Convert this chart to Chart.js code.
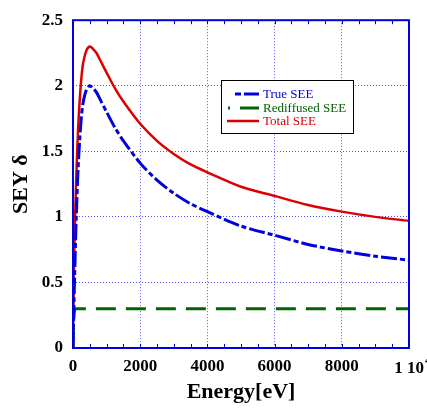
<!DOCTYPE html>
<html>
<head>
<meta charset="utf-8">
<script src="https://cdn.jsdelivr.net/npm/chart.js@4.4.1/dist/chart.umd.min.js"></script>
<style>
  html, body { margin: 0; padding: 0; background: #fff; }
  #wrap { width: 427px; height: 410px; }
</style>
</head>
<body>
<div id="wrap"><canvas id="sey" width="427" height="410"></canvas></div>
<script>
// datos
const energia = [0, 10, 20, 30, 50, 75, 100, 150, 200, 250, 300, 400, 500, 600, 700, 800,
  1000, 1250, 1500, 2000, 2500, 3000, 3500, 4000, 5000, 6000, 7000, 8000, 9000, 10000];
const trueSEE = [0, 0.12, 0.24, 0.35, 0.56, 0.81, 1.02, 1.36, 1.59, 1.76, 1.87, 1.97, 2.0, 1.98, 1.95, 1.9,
  1.8, 1.68, 1.58, 1.41, 1.28, 1.18, 1.1, 1.04, 0.93, 0.86, 0.79, 0.74, 0.7, 0.67];
const rediffSEE = [0, 0.1, 0.2, 0.26, 0.29, 0.3, 0.3, 0.3, 0.3, 0.3, 0.3, 0.3, 0.3, 0.3, 0.3, 0.3,
  0.3, 0.3, 0.3, 0.3, 0.3, 0.3, 0.3, 0.3, 0.3, 0.3, 0.3, 0.3, 0.3, 0.3];
const totalSEE = [0, 0.22, 0.44, 0.61, 0.85, 1.11, 1.32, 1.66, 1.89, 2.06, 2.17, 2.27, 2.3, 2.28, 2.25, 2.2,
  2.1, 1.98, 1.88, 1.71, 1.58, 1.48, 1.4, 1.34, 1.23, 1.16, 1.09, 1.04, 1.0, 0.97];
const ticksX = [0, 2000, 4000, 6000, 8000, 10000];
const ticksY = [0, 0.5, 1, 1.5, 2, 2.5];

const serif = "'Liberation Serif', 'Times New Roman', serif";
const azul = '#0000dd';

function puntos(ys) {
  return energia.map((e, i) => ({ x: e, y: ys[i] }));
}

// marco azul, marcas menores y leyenda
const marco = {
  id: 'marco',
  afterDatasetsDraw(chart) {
    const ctx = chart.ctx;
    const a = chart.chartArea;
    const sx = chart.scales.x;
    ctx.save();
    ctx.strokeStyle = azul;
    ctx.lineWidth = 1;
    for (let v = 0; v <= 10000; v += 500) {
      const px = Math.round(sx.getPixelForValue(v)) + 0.5;
      ctx.beginPath();
      ctx.moveTo(px, a.bottom); ctx.lineTo(px, a.bottom - 4);
      ctx.moveTo(px, a.top); ctx.lineTo(px, a.top + 4);
      ctx.stroke();
    }
    ctx.lineWidth = 2;
    ctx.strokeRect(a.left, a.top, a.right - a.left, a.bottom - a.top);

    // leyenda
    const bx = 221, by = 80, bw = 132, bh = 53;
    ctx.fillStyle = '#fff';
    ctx.fillRect(bx, by, bw, bh);
    ctx.strokeStyle = '#000';
    ctx.lineWidth = 1;
    ctx.strokeRect(bx + 0.5, by + 0.5, bw, bh);
    const ds = chart.data.datasets;
    const filas = [
      { d: ds[0], y: 94, segs: [[235, 241], [244, 259]] },
      { d: ds[1], y: 108, segs: [[228, 230], [240, 259]] },
      { d: ds[2], y: 121, segs: [[227, 259]] }
    ];
    ctx.font = '13px ' + serif;
    ctx.textBaseline = 'middle';
    filas.forEach(f => {
      ctx.strokeStyle = f.d.borderColor;
      ctx.lineWidth = f.d.borderWidth;
      f.segs.forEach(s => {
        ctx.beginPath();
        ctx.moveTo(s[0], f.y); ctx.lineTo(s[1], f.y);
        ctx.stroke();
      });
      ctx.fillStyle = f.d.borderColor;
      ctx.fillText(f.d.label, 263, f.y + 1);
    });

    // etiqueta 1 10^4
    const px = sx.getPixelForValue(10000);
    ctx.fillStyle = '#000';
    ctx.font = 'bold 17px ' + serif;
    ctx.textBaseline = 'alphabetic';
    const w = ctx.measureText('1 10').width;
    ctx.textAlign = 'left';
    ctx.fillText('1 10', px - w / 2, 373);
    ctx.font = 'bold 11px ' + serif;
    ctx.fillText('4', px + w / 2 + 1, 364);
    ctx.restore();
  }
};

const rejilla = { color: '#5555ff', lineWidth: 1, drawTicks: false };

new Chart(document.getElementById('sey').getContext('2d'), {
  type: 'line',
  data: {
    datasets: [
      { label: 'True SEE', data: puntos(trueSEE), borderColor: '#0000dd', borderWidth: 3,
        borderDash: [16, 3, 5, 3], pointRadius: 0, tension: 0.3, fill: false },
      { label: 'Rediffused SEE', data: puntos(rediffSEE), borderColor: '#006400', borderWidth: 3,
        borderDash: [20, 10], pointRadius: 0, tension: 0, fill: false },
      { label: 'Total SEE', data: puntos(totalSEE), borderColor: '#dd0000', borderWidth: 2.5,
        pointRadius: 0, tension: 0.3, fill: false }
    ]
  },
  options: {
    responsive: false,
    animation: false,
    layout: { padding: { left: 0, right: 18, top: 13, bottom: 0 } },
    plugins: { legend: { display: false }, tooltip: { enabled: false } },
    scales: {
      x: {
        type: 'linear', min: 0, max: 10000,
        afterBuildTicks: s => { s.ticks = ticksX.map(v => ({ value: v })); },
        afterFit: s => { s.height = 62; },
        border: { display: false, dash: [1, 2] },
        grid: rejilla,
        ticks: {
          padding: 8, color: '#000', maxRotation: 0,
          font: { family: serif, size: 17, weight: 'bold' },
          callback: v => (v === 10000 ? '' : String(v))
        },
        title: {
          display: true, text: 'Energy[eV]', color: '#000',
          font: { family: serif, size: 22, weight: 'bold' }, padding: { top: 3 }
        }
      },
      y: {
        min: 0, max: 2.5,
        afterBuildTicks: s => { s.ticks = ticksY.map(v => ({ value: v })); },
        afterFit: s => { s.width = 73; },
        border: { display: false, dash: [1, 2] },
        grid: rejilla,
        ticks: {
          padding: 10, color: '#000',
          font: { family: serif, size: 17, weight: 'bold' },
          callback: v => String(v)
        },
        title: {
          display: true, text: 'SEY δ', color: '#000',
          font: { family: serif, size: 22, weight: 'bold' }, padding: { top: 8, bottom: 0 }
        }
      }
    }
  },
  plugins: [marco]
});
</script>
</body>
</html>
